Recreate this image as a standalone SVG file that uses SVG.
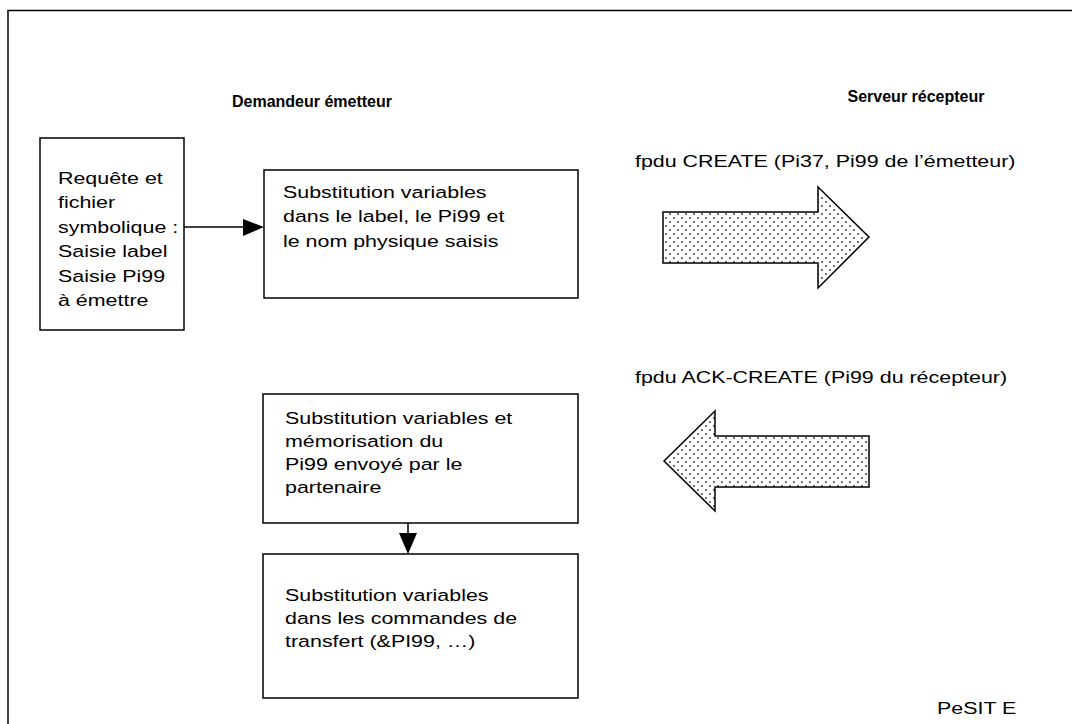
<svg xmlns="http://www.w3.org/2000/svg" width="1072" height="724" viewBox="0 0 1072 724">
<style>
  .t { font-family: "Liberation Sans", Arial, sans-serif; font-size: 17px; fill: #000; }
  .h { font-family: "Liberation Sans", Arial, sans-serif; font-size: 16px; font-weight: bold; fill: #000; text-anchor: middle; }
  .box { fill: #fff; stroke: #000; stroke-width: 1.5; }
  .big { fill: url(#dots); stroke: #000; stroke-width: 1.5; stroke-linejoin: miter; }
  .ln { stroke: #000; stroke-width: 1.5; fill: none; }
  .hd { fill: #000; stroke: none; }
</style>
<defs>
  <pattern id="dots" width="8" height="8" patternUnits="userSpaceOnUse">
    <rect width="8" height="8" fill="#fff"/>
    <circle cx="2" cy="2" r="1" fill="#444"/>
    <circle cx="6" cy="6" r="1" fill="#444"/>
  </pattern>
</defs>
<rect width="1072" height="724" fill="#fff"/>
<path class="ln" d="M8 724 V10.5 H1072" stroke-width="2"/>

<text class="h" x="312" y="107">Demandeur émetteur</text>
<text class="h" x="916" y="102">Serveur récepteur</text>

<g id="n-requete">
  <rect class="box" x="40" y="138" width="144" height="192"/>
  <g transform="translate(58 0) scale(1.26 1)">
    <text class="t" x="0" y="184">Requête et</text>
    <text class="t" x="0" y="208.5">fichier</text>
    <text class="t" x="0" y="233">symbolique :</text>
    <text class="t" x="0" y="257.5">Saisie label</text>
    <text class="t" x="0" y="282">Saisie Pi99</text>
    <text class="t" x="0" y="306.5">à émettre</text>
  </g>
</g>

<g id="n-subst1">
  <rect class="box" x="264" y="170" width="314" height="128"/>
  <g transform="translate(283 0) scale(1.26 1)">
    <text class="t" x="0" y="198">Substitution variables</text>
    <text class="t" x="0" y="222.5">dans le label, le Pi99 et</text>
    <text class="t" x="0" y="247">le nom physique saisis</text>
  </g>
</g>

<g id="n-subst2">
  <rect class="box" x="263" y="394" width="315" height="129"/>
  <g transform="translate(285 0) scale(1.26 1)">
    <text class="t" x="0" y="424">Substitution variables et</text>
    <text class="t" x="0" y="447">mémorisation du</text>
    <text class="t" x="0" y="470">Pi99 envoyé par le</text>
    <text class="t" x="0" y="493">partenaire</text>
  </g>
</g>

<g id="n-subst3">
  <rect class="box" x="263" y="554" width="315" height="144"/>
  <g transform="translate(285 0) scale(1.26 1)">
    <text class="t" x="0" y="601">Substitution variables</text>
    <text class="t" x="0" y="624">dans les commandes de</text>
    <text class="t" x="0" y="647">transfert (&amp;PI99, …)</text>
  </g>
</g>

<g id="n-create">
  <g transform="translate(635 0) scale(1.26 1)">
    <text class="t" x="0" y="167">fpdu CREATE (Pi37, Pi99 de l’émetteur)</text>
  </g>
  <polygon class="big" points="663,212 818,212 818,187 869,237 818,288 818,263 663,263"/>
</g>

<g id="n-ack">
  <g transform="translate(635 0) scale(1.26 1)">
    <text class="t" x="0" y="383">fpdu ACK-CREATE (Pi99 du récepteur)</text>
  </g>
  <polygon class="big" points="664,461 715,411 715,436 869,436 869,487 715,487 715,511"/>
</g>

<g id="n-pesit">
  <g transform="translate(937 0) scale(1.26 1)">
    <text class="t" x="0" y="714">PeSIT E</text>
  </g>
</g>

<g id="connectors">
  <line class="ln" x1="184" y1="227" x2="246" y2="227"/>
  <polygon class="hd" points="243,219 264,227 243,236"/>
  <line class="ln" x1="408" y1="523" x2="408" y2="535"/>
  <polygon class="hd" points="399,533 417,533 408,554"/>
</g>
</svg>
